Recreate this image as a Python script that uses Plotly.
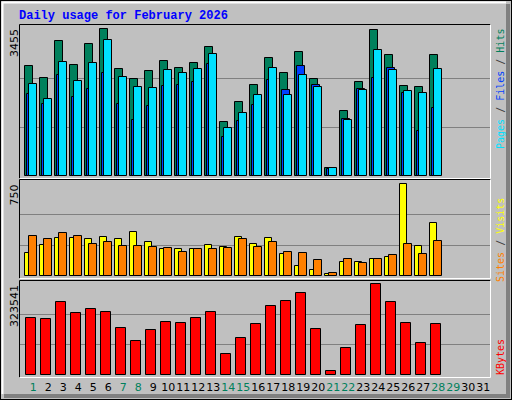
import plotly.graph_objects as go

days = list(range(1, 32))
hits = [2578, 2296, 3165, 2601, 3095, 3455, 2507, 2272, 2460, 2695, 2531, 2648, 3024, 1262,
        1732, 2131, 2766, 2413, 2907, 2272, 181, 1520, 2202, 3424, 2836, 2108, 2084, 2836]
files = [2155, 1802, 2672, 2225, 2648, 3189, 2319, 2084, 2061, 2484, 2413, 2507, 2860, 1121,
         1473, 1896, 2531, 1896, 2366, 2084, 181, 1309, 2014, 2954, 2484, 1990, 1943, 2507]
pages = [1920, 1685, 2366, 1849, 2037, 2413, 1685, 1309, 1638, 2108, 2131, 2202, 2625, 909,
         1285, 1661, 2249, 2014, 2578, 2131, 165, 1332, 2037, 2296, 2531, 1943, 1050, 1591]
visits = [185, 251, 308, 308, 300, 316, 300, 357, 275, 218, 218, 218, 251, 235,
          316, 259, 308, 177, 79, 46, 14, 112, 112, 136, 153, 750, 243, 431]
sites = [325, 300, 349, 325, 259, 275, 243, 243, 235, 226, 194, 218, 218, 226,
         300, 235, 275, 194, 185, 128, 22, 136, 104, 136, 169, 259, 177, 284]
kbytes = [202635, 199080, 259515, 220410, 234630, 223965, 167085, 120870, 159975, 188415,
          184860, 202635, 223965, 74655, 131535, 181305, 245295, 263070, 291510, 163530,
          14220, 95985, 177750, 323541, 259515, 184860, 113760, 181305]
weekend = [1, 7, 8, 14, 15, 21, 22, 28, 29]

C_HITS, C_FILES, C_PAGES = "#00805c", "#00e0ff", "#0040ff"
C_VIS, C_SITES, C_KB = "#ffff00", "#ff8000", "#ff0000"
BG = "#c0c0c0"
W, H = 512, 400

n = len(hits)
x = days[:n]
fig = go.Figure()
line = dict(color="black", width=1)

def bar(y, color, off, wid, ax):
    fig.add_trace(go.Bar(x=x, y=y, marker=dict(color=color, line=line), offset=off,
                         width=wid, xaxis="x" + ax, yaxis="y" + ax, showlegend=False,
                         hoverinfo="skip"))

bar(hits, C_HITS, -0.53, 0.49, "")
bar(pages, C_PAGES, -0.39, 0.47, "")
bar(files, C_FILES, -0.29, 0.51, "")
bar(visits, C_VIS, -0.55, 0.49, "2")
bar(sites, C_SITES, -0.29, 0.51, "2")
bar(kbytes, C_KB, -0.49, 0.7, "3")

r0 = 0.113
xr = [r0, r0 + 470 / 15]
xd = [20 / W, 490 / W]
ticktext = [f'<span style="color:{C_HITS if d in weekend else "black"}">{d}</span>' for d in days]
common_x = dict(range=xr, domain=xd, showgrid=False, zeroline=False, showline=False, fixedrange=True)
fig.update_layout(
    xaxis=dict(common_x, showticklabels=False, anchor="y"),
    xaxis2=dict(common_x, showticklabels=False, anchor="y2"),
    xaxis3=dict(common_x, anchor="y3", tickmode="array", tickvals=days, ticktext=ticktext,
                ticks="", tickangle=0, ticklabelstandoff=2,
                tickfont=dict(family="DejaVu Sans", size=11)),
)

def yax(maxv, lo, hi, dom, anchor):
    return dict(range=[lo, hi], domain=dom, anchor=anchor, tickvals=[maxv / 3, 2 * maxv / 3],
                showticklabels=False, gridcolor="#808080", gridwidth=1, zeroline=False,
                showline=False, fixedrange=True)

mh, mv, mk = max(hits), max(visits), max(kbytes)
fig.update_layout(
    yaxis=yax(mh, -47, 3549, [1 - 178 / H, 1 - 25 / H], "x"),
    yaxis2=yax(mv, -16, 785, [1 - 278 / H, 1 - 180 / H], "x2"),
    yaxis3=yax(mk, -6044, 335273, [1 - 377 / H, 1 - 281 / H], "x3"),
)

shapes = []
def ln(x0, y0, x1, y1, c, w=1):
    shapes.append(dict(type="line", xref="paper", yref="paper", x0=x0 / W, y0=1 - y0 / H,
                       x1=x1 / W, y1=1 - y1 / H, line=dict(color=c, width=w)))

ln(0, 0.5, W, 0.5, "black"); ln(0.5, 0, 0.5, H, "black")
ln(W - 0.5, 0, W - 0.5, H, "black"); ln(0, H - 0.5, W, H - 0.5, "black")
ln(2, 2.5, W - 6, 2.5, "white", 2); ln(2.5, 2, 2.5, H - 6, "white", 2)
ln(W - 4, 4, W - 4, H - 2, "#808080", 4); ln(4, H - 4, W - 2, H - 4, "#808080", 4)
for t, b in [(25, 178), (180, 278), (281, 377)]:
    ln(19.5, t - 0.5, 490.5, t - 0.5, "black"); ln(19.5, t - 0.5, 19.5, b + 0.5, "black")
    ln(490.5, t - 0.5, 490.5, b + 0.5, "white"); ln(19.5, b + 0.5, 490.5, b + 0.5, "white")

ann = []
def txt(s, xp, yp, size, color, ang=0, xa="left", ya="top", fam="DejaVu Sans"):
    ann.append(dict(text=s, x=xp / W, y=1 - yp / H, xref="paper", yref="paper", showarrow=False,
                    textangle=ang, xanchor=xa, yanchor=ya,
                    font=dict(family=fam, size=size, color=color)))

txt("<b>Daily usage for February 2026</b>", 17, 7, 12, "#0000ff", fam="Liberation Mono")
txt(str(mh), 14, 27, 11, "black", -90, "center")
txt(str(mv), 14, 183, 11, "black", -90, "center")
txt(str(mk), 14, 283, 11, "black", -90, "center")
mono = "DejaVu Sans Mono"
txt(f'<span style="color:{C_FILES}">Pages</span> / <span style="color:{C_PAGES}">Files</span> / '
    f'<span style="color:{C_HITS}">Hits</span>', 500, 27, 10, "#404040", -90, "center", fam=mono)
txt(f'<span style="color:{C_SITES}">Sites</span> / <span style="color:{C_VIS}">Visits</span>',
    500, 196, 10, "#404040", -90, "center", fam=mono)
txt("KBytes", 500, 337, 10, C_KB, -90, "center", fam=mono)

fig.update_layout(width=W, height=H, margin=dict(l=0, r=0, t=0, b=0), paper_bgcolor=BG,
                  plot_bgcolor=BG, barmode="overlay", bargap=0, shapes=shapes, annotations=ann)
fig.write_html("out.html", config={"displayModeBar": False},
               post_script="document.body.style.margin='0';document.body.style.overflow='hidden';")
